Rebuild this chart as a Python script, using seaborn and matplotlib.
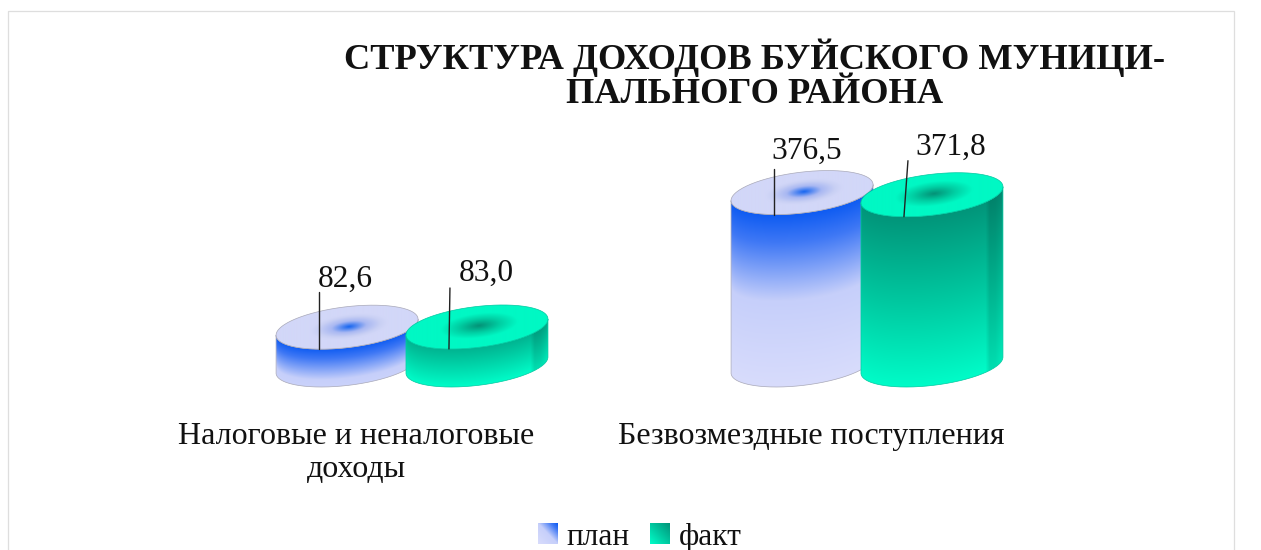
import numpy as np
import pandas as pd
import matplotlib
matplotlib.use('Agg')
import matplotlib.pyplot as plt
import seaborn as sns
from matplotlib.colors import to_rgb
from matplotlib.patches import Patch, PathPatch, Rectangle
from matplotlib.path import Path

categories = ['Налоговые и неналоговые\nдоходы', 'Безвозмездные поступления']
series_names = ['план', 'факт']
plan_values = [82.6, 376.5]
fact_values = [83.0, 371.8]
plan_labels = ['82,6', '376,5']
fact_labels = ['83,0', '371,8']
title_text = 'СТРУКТУРА ДОХОДОВ БУЙСКОГО МУНИЦИ-\nПАЛЬНОГО РАЙОНА'

W, H = 1261, 550
FONT = 'Liberation Serif'
sns.set_theme(style='white')
plt.rcParams['font.family'] = [FONT, 'DejaVu Sans']

# colour stops for the fake 3d cylinders: (position, colour)
side_stops = {
    'план': [(0, '#0f5cf2'), (0.16, '#3f78f5'), (0.5, '#c6cffa'), (1, '#d8dcfc')],
    'факт': [(0, '#02957a'), (0.5, '#00c8a0'), (1, '#00fcc8')],
}
top_stops = {
    'план': [(0, '#1464f0'), (0.45, '#a9b8f2'), (0.8, '#c9d0f4'), (1, '#d2d7f8')],
    'факт': [(0, '#049176'), (0.55, '#00d0a4'), (1, '#00f8c4')],
}
outline = {'план': '#a8a8b8', 'факт': '#00c8a0'}


def ramp(t, stops):
    pos = [s[0] for s in stops]
    cols = np.array([to_rgb(s[1]) for s in stops])
    return np.dstack([np.interp(t, pos, cols[:, i]) for i in range(3)])


def front_edge(x, cx, cy, a, p, q):
    u = np.clip((x - cx) / a, -1, 1)
    return cy - p * u + q * np.sqrt(1 - u ** 2)


def ellipse_path(cx, cy, a, p, q):
    t = np.linspace(0, 2 * np.pi, 200)
    return Path(np.column_stack([cx + a * np.cos(t), cy - p * np.cos(t) - q * np.sin(t)]))


def body_path(cx, top, base, a, p, q):
    t = np.linspace(0, np.pi, 100)
    upper = np.column_stack([cx + a * np.cos(t), top - p * np.cos(t) + q * np.sin(t)])
    lower = np.column_stack([cx + a * np.cos(t), base - p * np.cos(t) + q * np.sin(t)])[::-1]
    return Path(np.vstack([upper, lower, upper[:1]]))


def paint(ov, rgb, x0, x1, y0, y1, clip=None):
    im = ov.imshow(rgb, extent=(x0, x1, y1, y0), aspect='auto', interpolation='bilinear', zorder=3)
    if clip is not None:
        patch = PathPatch(clip, transform=ov.transData, fc='none', ec='none')
        ov.add_patch(patch)
        im.set_clip_path(patch)
    ov.set_xlim(0, W)
    ov.set_ylim(H, 0)
    return im


def cylinder(ov, cx, top, base, name, a=71.0, p=8.0, q=20.5):
    tall = base - top > 100
    # side wall
    xs = np.linspace(cx - a, cx + a, 143)
    ys = np.arange(top - 30, base + 32, 1.0)
    xx, yy = np.meshgrid(xs, ys)
    edge = front_edge(xx, cx, top, a, p, q)
    if name == 'факт':
        t = np.clip((yy - edge) / (base - top), 0, 1)
        if not tall:
            # short bar starts brighter than the tall one
            t = 0.3 + 0.7 * t
    else:
        t = np.clip((yy - edge) / (172.0 if tall else 62.0), 0, 1)
    rgb = ramp(t, side_stops[name])
    if name == 'факт':
        u = (xx - cx) / a
        shade = 1 - 0.12 * np.clip((u - 0.76) / 0.06, 0, 1) + 0.05 * np.clip((u - 0.9) / 0.1, 0, 1)
        rgb = rgb * shade[..., None]
    path = body_path(cx, top, base, a, p, q)
    paint(ov, rgb, xs[0], xs[-1], ys[0], ys[-1], path)
    ov.add_patch(PathPatch(path, fc='none', ec=outline[name], lw=0.5, zorder=3))

    # top face
    ys = np.arange(top - 32, top + 33, 0.5)
    xx, yy = np.meshgrid(xs, ys)
    u = (xx - cx) / a
    v = (yy - top + p * u) / q
    r = np.sqrt(((u - 0.03) / 0.55) ** 2 + ((v + 0.02) / 0.6) ** 2)
    path = ellipse_path(cx, top, a, p, q)
    paint(ov, ramp(np.clip(r, 0, 1), top_stops[name]), xs[0], xs[-1], ys[0], ys[-1], path)
    ov.add_patch(PathPatch(path, fc='none', ec=outline[name], lw=0.5, zorder=3))


df = pd.DataFrame({
    'category': categories * 2,
    'series': [series_names[0]] * 2 + [series_names[1]] * 2,
    'value': plan_values + fact_values,
})

fig = plt.figure(figsize=(W / 100, H / 100), dpi=100, facecolor='white')
# axes box: x -0.5..1.5 spans 910 px, y 0..500 spans 229 px above the base line y=365
ax = fig.add_axes([184.5 / W, 1 - 365 / H, 910 / W, 229 / H])
sns.barplot(data=df, x='category', y='value', hue='series', hue_order=series_names,
            width=0.571, gap=0, palette=['#0f5cf2', '#00c8a0'], legend=False, ax=ax)
ax.set_xlim(-0.5, 1.5)
ax.set_ylim(0, 500)
ax.set_xlabel('')
ax.set_ylabel('')
ax.set_yticks([])
# category labels sit left of the group centre
ax.set_xticks([0 - 0.123, 1 - 0.123])
ax.set_xticklabels(categories, fontsize=23, color='#111111', linespacing=1.2)
ax.tick_params(axis='x', length=0, pad=41)
sns.despine(ax=ax, left=True, bottom=True)

ov = fig.add_axes([0, 0, 1, 1], zorder=5)
ov.patch.set_alpha(0)
ov.axis('off')
ov.set_xlim(0, W)
ov.set_ylim(H, 0)

# chart frame, cut by the bottom of the image
ov.add_patch(Rectangle((7.5, 10.5), 1226, 600, fc='none', ec='#dedede', lw=0.9, clip_on=True))

fig.text(755 / W, 1 - 74.5 / H, title_text, ha='center', va='center', fontsize=26.2,
         fontweight='bold', color='#111111', linespacing=1.04)


def to_px(x, y):
    px, py = ax.transData.transform((x, y))
    return px, H - py


# offsets of the label centre and leader line from the bar's top centre
label_dx = [[-2, 9], [5, 19]]
label_dy = [[-48, -54], [-41, -47]]
lead_dx = [[-28, -28], [-28, -28]]
lead_tip = [[(0, -57), (1, -61)], [(0, -46), (4, -56)]]
texts = [plan_labels, fact_labels]

for i in range(len(categories)):
    for j, name in enumerate(series_names):
        bar = ax.containers[j][i]
        bar.set_visible(False)
        cx, top = to_px(bar.get_x() + bar.get_width() / 2, bar.get_height())
        _, base = to_px(0, 0)
        cylinder(ov, cx, top, base, name)
        lx = cx + lead_dx[i][j]
        ly = front_edge(lx, cx, top, 71.0, 8.0, 20.5)
        ov.plot([lx, lx + lead_tip[i][j][0]], [ly, ly + lead_tip[i][j][1]], color='#222222', lw=1, zorder=4)
        ov.text(cx + label_dx[i][j], top + label_dy[i][j], texts[j][i], ha='center', va='center',
                fontsize=22.6, color='#111111', zorder=4)

handles = [Patch(fc='#0f5cf2', ec='none'), Patch(fc='#00c8a0', ec='none')]
leg = ov.legend(handles, series_names, loc='center', bbox_to_anchor=(640 / W, 1 - 537.5 / H),
                bbox_transform=fig.transFigure, ncol=2, frameon=False, fontsize=22.6,
                handlelength=0.62, handleheight=0.62, handletextpad=0.3, columnspacing=0.66,
                borderpad=0, labelcolor='#111111')
fig.canvas.draw()
# gradient swatches painted over the legend keys
for patch, name in zip(leg.get_patches(), series_names):
    bb = patch.get_window_extent()
    g = np.linspace(0, 1, 20)
    gx, gy = np.meshgrid(g, g)
    t = np.clip(((1 - gx) + gy) / 2, 0, 1)
    im = paint(ov, ramp(t, side_stops[name]), bb.x0, bb.x1, H - bb.y1, H - bb.y0)
    im.set_zorder(10)

fig.savefig('out.png', dpi=100)
